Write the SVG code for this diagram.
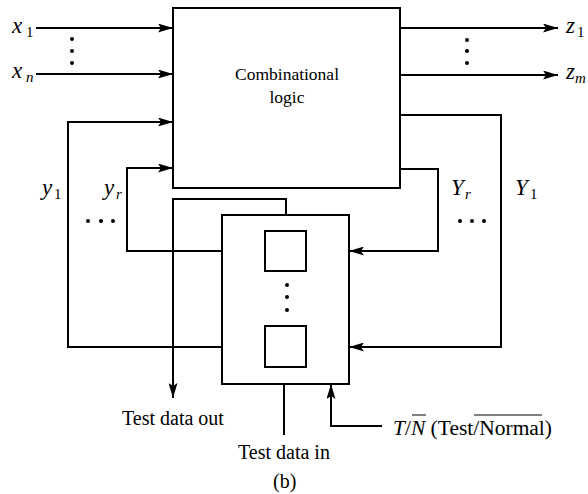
<svg xmlns="http://www.w3.org/2000/svg" width="588" height="494" viewBox="0 0 588 494">
<style>
.ln{fill:none;stroke:#000;stroke-width:2}
.ar{fill:none;stroke:#000;stroke-width:2;marker-end:url(#ah)}
.bx{fill:#fff;stroke:#000;stroke-width:2}
text{font-family:"Liberation Serif","Times New Roman",serif;font-size:20px;fill:#000}
.it{font-style:italic}
.v{font-size:23px}
.sb{font-size:15px}
.lb{font-size:20px}
</style>
<defs>
<marker id="ah" markerWidth="15" markerHeight="9" refX="15" refY="4.5" orient="auto" markerUnits="userSpaceOnUse">
<path d="M0,0 L15,4.5 L0,9 L3,4.5 Z" fill="#000"/>
</marker>
</defs>
<rect width="588" height="494" fill="#fff"/>
<g id="connectors">
<path class="ar" d="M36,28 H173"/>
<path class="ar" d="M36,74 H173"/>
<path class="ar" d="M400,28 H558"/>
<path class="ar" d="M400,75 H558"/>
<path class="ar" d="M222,347 H68 V122 H173"/>
<path class="ar" d="M222,251 H127 V168 H173"/>
<path class="ar" d="M400,115 H501 V347 H349"/>
<path class="ar" d="M400,169 H438 V251 H349"/>
<path class="ar" d="M286,231 V199 H173 V398"/>
<path class="ar" d="M284,435 V367"/>
<path class="ar" d="M382,426 H331 V384"/>
</g>
<g id="comb">
<rect class="bx" x="173" y="8" width="227" height="180"/>
<text x="287" y="80" text-anchor="middle" style="font-size:17.5px">Combinational</text>
<text x="287" y="103" text-anchor="middle" style="font-size:17.5px">logic</text>
</g>
<g id="scan">
<rect class="bx" x="222" y="215" width="127" height="169"/>
<rect class="bx" x="265" y="231" width="41" height="40"/>
<rect class="bx" x="265" y="326" width="41" height="41"/>
<circle cx="287" cy="285" r="2"/><circle cx="287" cy="297" r="2"/><circle cx="287" cy="310" r="2"/>
</g>
<g id="labels">
<text x="12" y="33" class="it v">x</text><text x="26" y="37" class="sb">1</text>
<text x="12" y="78" class="it v">x</text><text x="26" y="82" class="sb it">n</text>
<circle cx="72" cy="39" r="2"/><circle cx="72" cy="51" r="2"/><circle cx="72" cy="63" r="2"/>
<text x="566" y="33" class="it v">z</text><text x="577" y="37" class="sb">1</text>
<text x="566" y="79" class="it v">z</text><text x="575" y="83" class="sb it">m</text>
<circle cx="467" cy="40" r="2"/><circle cx="467" cy="51" r="2"/><circle cx="467" cy="63" r="2"/>
<text x="42" y="195" class="it v">y</text><text x="54" y="199" class="sb">1</text>
<text x="104" y="195" class="it v">y</text><text x="116" y="199" class="sb it">r</text>
<circle cx="88" cy="221" r="2"/><circle cx="101" cy="221" r="2"/><circle cx="113" cy="221" r="2"/>
<text x="451" y="195" class="it v">Y</text><text x="465" y="199" class="sb it">r</text>
<text x="515" y="195" class="it v">Y</text><text x="530" y="199" class="sb">1</text>
<circle cx="460" cy="221" r="2"/><circle cx="472" cy="221" r="2"/><circle cx="484" cy="221" r="2"/>
<text x="122" y="425" class="lb">Test data out</text>
<text x="238" y="459" class="lb">Test data in</text>
<text x="393" y="435" class="lb" textLength="159" lengthAdjust="spacingAndGlyphs"><tspan class="it">T</tspan>/<tspan class="it">N</tspan> (Test/Normal)</text>
<path d="M412,415 H426 M474,415 H542" style="fill:none;stroke:#000;stroke-width:1.2"/>
<text x="273" y="488" class="lb">(b)</text>
</g>
</svg>
